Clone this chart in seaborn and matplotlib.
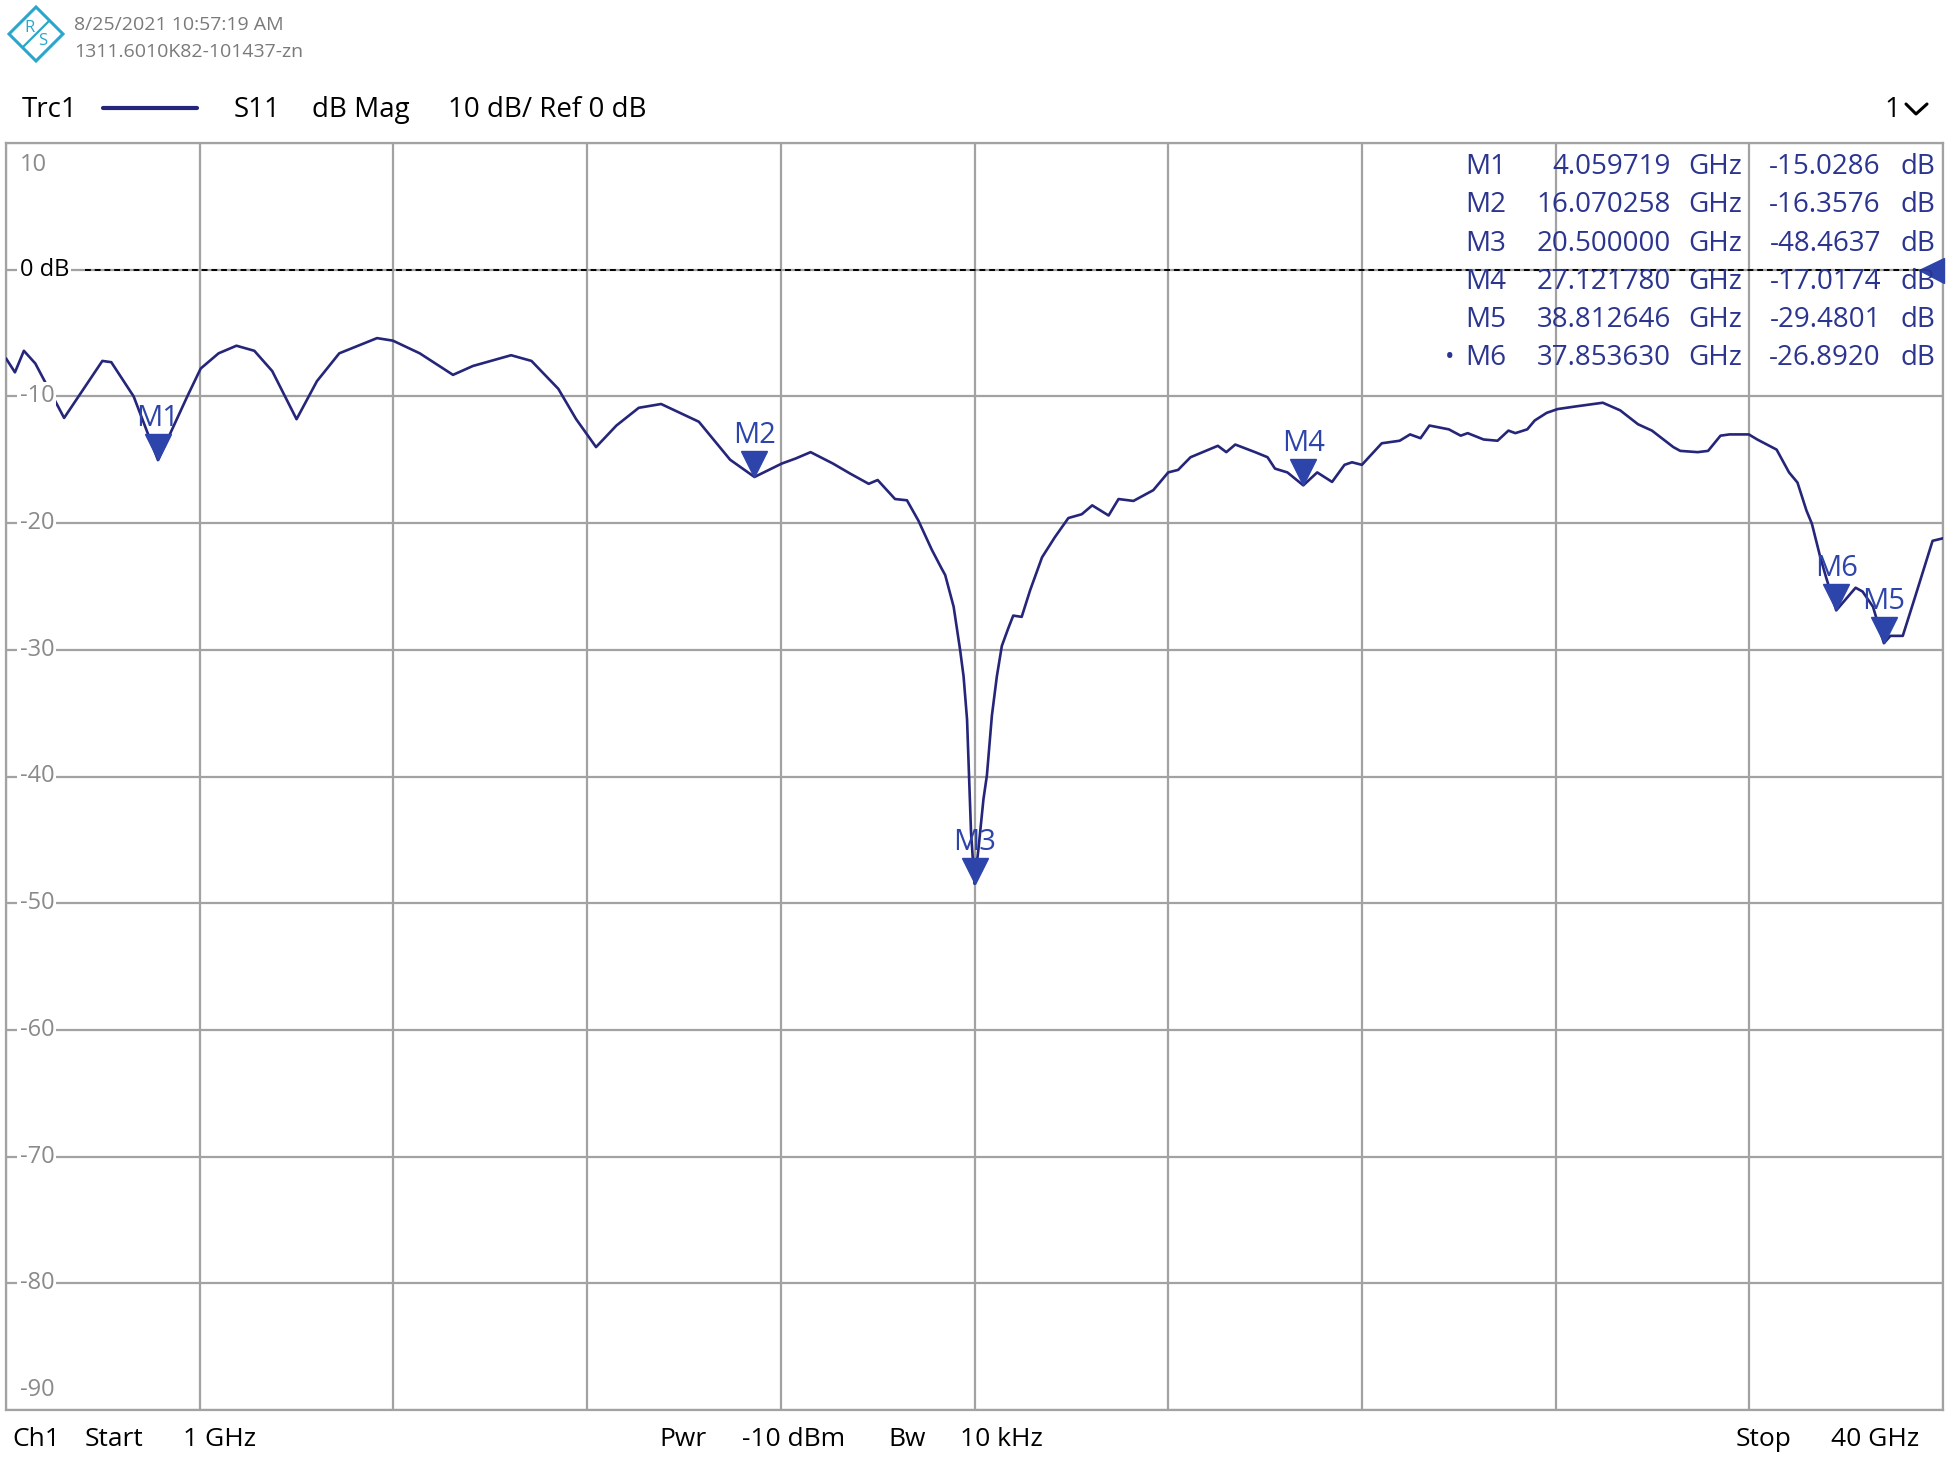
import matplotlib
matplotlib.use("Agg")
import matplotlib.pyplot as plt
import matplotlib.transforms as mtransforms
from matplotlib.lines import Line2D
from matplotlib.patches import Polygon
import numpy as np
import pandas as pd
import seaborn as sns

# trace S11 (GHz, dB)
freq_ghz = [1.0, 1.18, 1.36, 1.59, 2.17, 2.94, 3.12, 3.57, 4.06, 4.65, 4.92, 5.28, 5.64, 6.0,
            6.36, 6.85, 7.26, 7.71, 8.47, 8.79, 9.33, 10.0, 10.4, 11.17, 11.58, 12.12, 12.48,
            12.88, 13.29, 13.74, 14.19, 14.95, 15.58, 16.07, 16.62, 16.9, 17.2, 17.65, 18.0,
            18.37, 18.55, 18.9, 19.14, 19.37, 19.64, 19.84, 19.91, 20.08, 20.21, 20.28, 20.35,
            20.39, 20.43, 20.5, 20.58, 20.68, 20.75, 20.85, 20.95, 21.05, 21.18, 21.28, 21.45,
            21.62, 21.86, 22.12, 22.39, 22.66, 22.87, 23.2, 23.4, 23.7, 24.1, 24.4, 24.6, 24.85,
            25.4, 25.57, 25.75, 26.15, 26.4, 26.55, 26.8, 27.12, 27.4, 27.7, 27.95, 28.1, 28.3,
            28.7, 29.06, 29.27, 29.48, 29.66, 30.05, 30.29, 30.43, 30.75, 31.03, 31.25, 31.39,
            31.63, 31.78, 32.02, 32.24, 32.59, 32.87, 33.15, 33.5, 33.86, 34.14, 34.57, 34.71,
            35.06, 35.27, 35.52, 35.7, 36.09, 36.26, 36.65, 36.9, 37.07, 37.25, 37.36, 37.53,
            37.64, 37.85, 38.03, 38.24, 38.38, 38.59, 38.81, 38.94, 39.19, 39.44, 39.79, 40.0]
s11_db = [-7.0, -8.1, -6.4, -7.4, -11.7, -7.2, -7.3, -10.0, -15.03, -10.0, -7.8, -6.6, -6.0, -6.4,
          -8.0, -11.8, -8.8, -6.6, -5.4, -5.6, -6.6, -8.3, -7.6, -6.75, -7.2, -9.4, -11.8,
          -14.0, -12.3, -10.9, -10.6, -12.0, -15.0, -16.36, -15.3, -14.9, -14.4, -15.3, -16.1,
          -16.9, -16.6, -18.1, -18.2, -19.8, -22.1, -23.6, -24.1, -26.6, -30.0, -32.1, -35.5,
          -39.9, -44.4, -48.46, -45.7, -41.8, -39.9, -35.2, -32.1, -29.7, -28.3, -27.3, -27.4,
          -25.3, -22.7, -21.1, -19.6, -19.3, -18.6, -19.4, -18.1, -18.25, -17.4, -16.0, -15.8, -14.8,
          -13.9, -14.4, -13.8, -14.4, -14.8, -15.7, -16.0, -17.02, -16.0, -16.75, -15.4, -15.2, -15.4,
          -13.7, -13.5, -13.0, -13.3, -12.3, -12.6, -13.1, -12.9, -13.4, -13.5, -12.7, -12.9,
          -12.6, -11.9, -11.3, -11.0, -10.8, -10.65, -10.5, -11.1, -12.2, -12.7, -14.0, -14.3,
          -14.4, -14.3, -13.1, -13.0, -13.0, -13.4, -14.2, -16.0, -16.8, -19.0, -20.05, -22.7,
          -24.2, -26.89, -26.06, -25.1, -25.4, -26.6, -29.48, -28.9, -28.9, -25.8, -21.4, -21.2]

marker_names = ["M1", "M2", "M3", "M4", "M5", "M6"]
marker_freq = [4.059719, 16.070258, 20.500000, 27.121780, 38.812646, 37.853630]
marker_db = [-15.0286, -16.3576, -48.4637, -17.0174, -29.4801, -26.8920]

y_ticks = [10, 0, -10, -20, -30, -40, -50, -60, -70, -80, -90]
y_tick_labels = ["10", "0 dB", "-10", "-20", "-30", "-40", "-50", "-60", "-70", "-80", "-90"]
f_start, f_stop = 1, 40
ref_level = 0

trace_col = "#25257a"
mark_col = "#2d44aa"
text_col = "#2b3590"
grid_col = "#a2a2a2"

sns.set_style("white")
plt.rcParams["font.family"] = ["Open Sans", "DejaVu Sans"]

W, H = 1950, 1461
fig = plt.figure(figsize=(W / 100, H / 100), dpi=100)


def px(x, y):
    return x / W, 1 - y / H


ax = fig.add_axes([6 / W, 1 - 1410 / H, (1943 - 6) / W, (1410 - 143) / H])

df = pd.DataFrame({"f": freq_ghz, "db": s11_db})
sns.lineplot(data=df, x="f", y="db", ax=ax, color=trace_col, lw=1.9, zorder=5)

ax.set_xlim(f_start, f_stop)
ax.set_ylim(y_ticks[-1], y_ticks[0])
ax.set_xticks(np.linspace(f_start, f_stop, 11))
ax.set_yticks(y_ticks)
ax.tick_params(length=0, labelleft=False, labelbottom=False)
ax.set_xlabel("")
ax.set_ylabel("")
ax.grid(True, color=grid_col, lw=1.6)
for sp in ax.spines.values():
    sp.set_color(grid_col)
    sp.set_linewidth(1.6)

# y labels drawn inside the grid, like the analyzer
ylab_tr = mtransforms.blended_transform_factory(ax.transAxes, ax.transData)
for v, lab in zip(y_ticks, y_tick_labels):
    if v == y_ticks[0]:
        va, yoff = "top", -0.8
    elif v == y_ticks[-1]:
        va, yoff = "bottom", 0.6
    else:
        va, yoff = "center", 0
    ax.text(0.007, v + yoff, lab, transform=ylab_tr, ha="left", va=va, fontsize=17,
            color="black" if v == ref_level else "#8a8a8a", zorder=6,
            bbox=dict(facecolor="white", edgecolor="none", pad=1.5))

# reference line + ref arrow at right edge
ax.axhline(ref_level, xmin=0.041, xmax=1, color="black", lw=1.4, ls=(0, (3, 2)), zorder=4)
ref_tr = mtransforms.offset_copy(ylab_tr, fig=fig, x=-9, y=0, units="points")
ax.plot([1.0], [ref_level], marker="<", ms=18, color=mark_col, transform=ref_tr,
        clip_on=False, zorder=7)

# markers: triangle tip on trace, label above
tri_tr = mtransforms.offset_copy(ax.transData, fig=fig, x=0, y=9.5, units="points")
for name, f, v in zip(marker_names, marker_freq, marker_db):
    ax.plot([f], [v], marker="v", ms=19, color=mark_col, transform=tri_tr, zorder=8)
    ax.annotate(name, (f, v), xytext=(0, 27), textcoords="offset pixels", ha="center",
                va="bottom", fontsize=21, color=mark_col, zorder=9)

# marker table
row_y = [167, 205, 244, 282, 320, 358]
for i, (name, f, v) in enumerate(zip(marker_names, marker_freq, marker_db)):
    y = row_y[i]
    fig.text(*px(1506, y), name, ha="right", va="center", fontsize=20, color=text_col)
    fig.text(*px(1671, y), f"{f:.6f}", ha="right", va="center", fontsize=20, color=text_col)
    fig.text(*px(1742, y), "GHz", ha="right", va="center", fontsize=20, color=text_col)
    fig.text(*px(1881, y), f"{v:.4f}", ha="right", va="center", fontsize=20, color=text_col)
    fig.text(*px(1935, y), "dB", ha="right", va="center", fontsize=20, color=text_col)
fig.text(*px(1450, row_y[-1]), "•", ha="center", va="center", fontsize=18, color=text_col)

# header with logo
logo_c = "#2aa6cc"
cx, cy, r = 36, 34, 27
diamond = Polygon([px(cx, cy - r), px(cx + r, cy), px(cx, cy + r), px(cx - r, cy)], closed=True,
                  fill=False, edgecolor=logo_c, lw=2.2, transform=fig.transFigure)
fig.add_artist(diamond)
fig.add_artist(Line2D([px(cx + r / 2, cy - r / 2)[0], px(cx - r / 2, cy + r / 2)[0]],
                      [px(cx + r / 2, cy - r / 2)[1], px(cx - r / 2, cy + r / 2)[1]],
                      color=logo_c, lw=1.6, transform=fig.transFigure))
fig.text(*px(cx - 7, cy - 6), "R", ha="center", va="center", fontsize=12, color=logo_c)
fig.text(*px(cx + 7, cy + 7), "S", ha="center", va="center", fontsize=12, color=logo_c)
fig.text(*px(74, 25), "8/25/2021 10:57:19 AM", ha="left", va="center", fontsize=14, color="#7a7a7a")
fig.text(*px(74, 52), "1311.6010K82-101437-zn", ha="left", va="center", fontsize=14, color="#7a7a7a")

fig.text(*px(22, 110), "Trc1", ha="left", va="center", fontsize=20, color="black")
fig.add_artist(Line2D([px(103, 0)[0], px(197, 0)[0]], [px(0, 108)[1]] * 2, color=trace_col, lw=3,
                      transform=fig.transFigure))
fig.text(*px(234, 110), "S11", ha="left", va="center", fontsize=20, color="black")
fig.text(*px(312, 110), "dB Mag", ha="left", va="center", fontsize=20, color="black")
fig.text(*px(448, 110), "10 dB/ Ref 0 dB", ha="left", va="center", fontsize=20, color="black")
fig.text(*px(1884, 110), "1", ha="left", va="center", fontsize=20, color="black")
chev = [px(1906, 104), px(1916, 114), px(1927, 104)]
fig.add_artist(Line2D([p[0] for p in chev], [p[1] for p in chev], color="black", lw=2.2,
                      transform=fig.transFigure))

# footer
for x, s in [(12, "Ch1"), (85, "Start"), (183, "1 GHz"), (659, "Pwr"), (742, "-10 dBm"),
             (888, "Bw"), (960, "10 kHz"), (1736, "Stop"), (1831, "40 GHz")]:
    fig.text(*px(x, 1439), s, ha="left", va="center", fontsize=19, color="black")

fig.savefig("out.png", dpi=100, facecolor="white")
